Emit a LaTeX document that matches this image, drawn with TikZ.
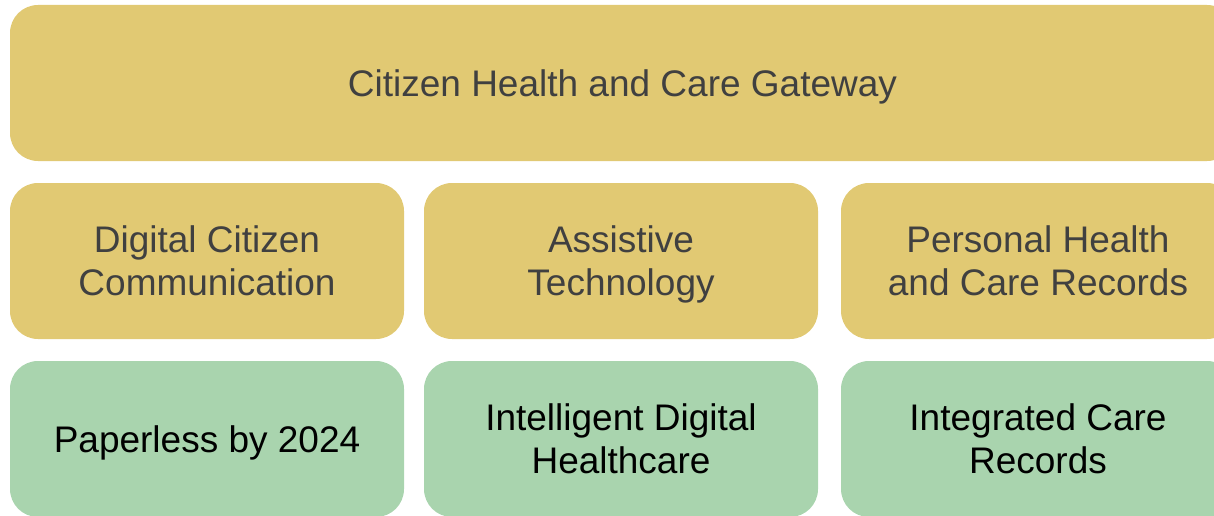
\documentclass[tikz,border=0pt]{standalone}
\usepackage{fontspec}
\setmainfont{Liberation Sans}
\definecolor{goldfill}{HTML}{E1C973}
\definecolor{greenfill}{HTML}{A9D4AE}
\definecolor{goldtext}{HTML}{404040}
\begin{document}
\begin{tikzpicture}[x=1pt,y=-1pt,
  tile/.style={rectangle, rounded corners=28pt, inner sep=0pt, outer sep=0pt,
    minimum height=156pt, align=center, text depth=-3pt,
    font=\fontsize{37}{43}\selectfont},
  goldtile/.style={tile, fill=goldfill, text=goldtext},
  greentile/.style={tile, fill=greenfill, text=black},
  wide/.style={minimum width=1225pt},
  narrow/.style={minimum width=394pt}]
\useasboundingbox (0,0) rectangle (1214,516);
\clip (0,0) rectangle (1214,516);
% top banner
\node[goldtile, wide] (gateway) at (622.5,83) {Citizen Health and Care Gateway};
% middle row
\node[goldtile, narrow] (dcc) at (207,261) {Digital Citizen\\Communication};
\node[goldtile, narrow] (at) at (621,261) {Assistive\\Technology};
\node[goldtile, narrow] (phr) at (1038,261) {Personal Health\\and Care Records};
% bottom row
\node[greentile, narrow] (paper) at (207,439) {Paperless by 2024};
\node[greentile, narrow] (idh) at (621,439) {Intelligent Digital\\Healthcare};
\node[greentile, narrow] (icr) at (1038,439) {Integrated Care\\Records};
\end{tikzpicture}
\end{document}
